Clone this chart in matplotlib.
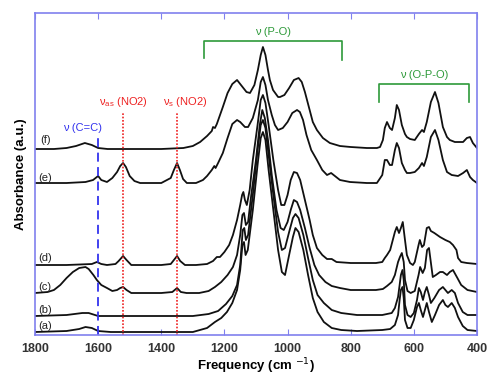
import matplotlib
matplotlib.use("Agg")
import matplotlib.pyplot as plt

plt.rcParams["font.family"] = ["Liberation Sans", "DejaVu Sans"]

# spectra: frequency (cm-1) and absorbance (a.u., traces offset)
freq_f = [1800, 1740, 1700, 1670, 1642, 1620, 1600, 1570, 1500, 1400, 1330, 1300, 1277, 1255, 1240,
          1236, 1230, 1224, 1205, 1190, 1175, 1160, 1145, 1130, 1119, 1105, 1094, 1085, 1078, 1070,
          1062, 1056, 1046, 1030, 1024, 1010, 995, 980, 965, 955, 945, 930, 920, 907, 888, 866, 834,
          800, 749, 717, 707, 698, 692, 685, 676, 669, 660, 654, 647, 638, 628, 622, 612, 597, 584,
          574, 568, 559, 546, 533, 522, 508, 495, 486, 470, 444, 432, 422, 413, 400]
abs_f = [186, 186, 187, 189, 192, 190, 187, 186, 186, 186, 187, 189, 193, 199, 204,
         208, 207, 211, 228, 242, 251, 255, 249, 243, 242, 250, 265, 280, 288, 280,
         265, 255, 245, 238, 238, 240, 247, 255, 257, 253, 243, 225, 213, 205, 197, 192, 189,
         188, 187, 187, 188, 195, 207, 213, 207, 205, 217, 230, 225, 210, 201, 198, 196, 195, 201,
         205, 203, 213, 233, 243, 232, 208, 198, 195, 193, 193, 197, 198, 192, 187]

freq_e = [1800, 1700, 1640, 1616, 1604, 1600, 1590, 1572, 1555, 1540, 1530, 1521, 1512, 1500, 1485,
          1467, 1400, 1370, 1360, 1350, 1341, 1331, 1319, 1290, 1268, 1255, 1240, 1232, 1228, 1220,
          1205, 1190, 1175, 1160, 1150, 1135, 1125, 1110, 1094, 1085, 1078, 1070, 1062, 1050, 1040,
          1030, 1015, 1000, 985, 970, 961, 951, 940, 925, 907, 890, 875, 862, 850, 834, 802, 749,
          717, 700, 692, 685, 676, 669, 660, 654, 647, 638, 628, 622, 612, 597, 584, 574, 568, 559,
          546, 533, 522, 508, 495, 480, 460, 444, 432, 422, 413, 400]
abs_e = [152, 152, 153, 155, 158, 159, 155, 153, 157, 163, 169, 172, 168, 159, 154,
         152, 152, 157, 165, 172, 165, 156, 152, 152, 155, 159, 165, 169, 167, 172,
         182, 197, 211, 215, 213, 208, 208, 217, 235, 253, 258, 250, 235, 220, 210,
         205, 207, 213, 222, 225, 223, 215, 200, 185, 175, 165, 160, 162, 159, 155, 153, 152,
         152, 160, 175, 175, 170, 170, 185, 192, 187, 172, 165, 162, 162, 163, 167, 172, 169, 178,
         198, 205, 195, 175, 163, 160, 159, 162, 165, 158, 155, 152]

freq_d = [1800, 1700, 1620, 1604, 1590, 1572, 1545, 1535, 1521, 1510, 1495, 1400, 1370, 1360, 1350,
          1340, 1325, 1290, 1255, 1236, 1224, 1214, 1200, 1185, 1173, 1160, 1150, 1144, 1140, 1135,
          1129, 1120, 1110, 1095, 1085, 1078, 1070, 1060, 1045, 1030, 1020, 1010, 1000, 990, 980,
          970, 960, 945, 930, 920, 907, 890, 875, 860, 845, 800, 720, 700, 692, 685, 675, 660, 654,
          647, 641, 635, 628, 622, 612, 603, 597, 585, 581, 574, 568, 559, 552, 546, 535, 517, 500,
          486, 476, 465, 460, 450, 432, 400]
abs_d = [70, 70, 71, 73, 71, 70, 71, 74, 79, 75, 70, 70, 71, 75, 79,
         74, 70, 70, 71, 74, 78, 78, 83, 90, 100, 115, 130, 140, 143, 135,
         130, 145, 175, 210, 235, 240, 232, 210, 175, 145, 130, 130, 140, 155, 163,
         162, 155, 135, 115, 100, 87, 80, 76, 76, 73, 72, 72, 73, 77, 80, 85, 103, 108,
         102, 107, 113, 95, 80, 72, 70, 73, 90, 95, 88, 90, 107, 108, 104, 102, 98, 95,
         93, 90, 85, 77, 73, 72, 71]

freq_c = [1800, 1760, 1740, 1720, 1700, 1680, 1660, 1640, 1630, 1615, 1604, 1590, 1572, 1555, 1540,
          1530, 1521, 1510, 1495, 1400, 1365, 1350, 1338, 1320, 1280, 1250, 1230, 1210, 1190, 1173,
          1160, 1150, 1143, 1138, 1132, 1125, 1115, 1100, 1088, 1080, 1072, 1062, 1050, 1035, 1022,
          1012, 1000, 990, 980, 970, 960, 945, 930, 915, 900, 880, 860, 834, 800, 720, 698, 685,
          670, 660, 650, 644, 638, 632, 628, 620, 610, 597, 585, 580, 572, 565, 558, 552, 545, 540,
          530, 517, 508, 495, 486, 476, 462, 450, 430, 400]
abs_c = [42, 43, 45, 50, 57, 63, 67, 68, 66, 60, 55, 50, 47, 44, 45,
         47, 48, 45, 42, 42, 43, 47, 43, 42, 42, 44, 48, 53, 60, 68,
         80, 100, 120, 122, 110, 113, 140, 175, 210, 225, 217, 195, 160, 125, 107,
         105, 113, 125, 135, 133, 125, 107, 87, 70, 60, 53, 49, 47, 45, 45, 46, 49,
         53, 60, 73, 78, 82, 73, 55, 44, 42, 44, 60, 68, 62, 67, 85, 87, 70, 58,
         60, 63, 63, 60, 63, 65, 57, 50, 45, 43]

freq_b = [1800, 1700, 1650, 1630, 1600, 1560, 1300, 1250, 1220, 1195, 1175, 1160, 1150, 1142, 1137,
          1132, 1125, 1110, 1095, 1085, 1078, 1070, 1060, 1045, 1030, 1018, 1008, 995, 983, 975,
          965, 950, 935, 920, 905, 885, 860, 830, 780, 700, 670, 660, 650, 645, 641, 636, 632, 628,
          620, 610, 600, 590, 584, 578, 571, 565, 559, 552, 546, 535, 520, 508, 500, 492, 480, 470,
          460, 445, 430, 400]
abs_b = [19, 20, 22, 22, 19, 19, 19, 21, 24, 31, 39, 50, 70, 105, 107,
         95, 100, 140, 185, 210, 215, 207, 180, 140, 103, 85, 87, 103, 117, 121,
         117, 100, 77, 55, 40, 32, 25, 22, 20, 20, 22, 27, 38, 50, 60, 65, 55, 30,
         20, 18, 22, 35, 47, 43, 35, 43, 48, 40, 32, 37, 45, 48, 45, 42, 45, 42,
         32, 23, 20, 20]

freq_a = [1800, 1700, 1660, 1640, 1620, 1600, 1560, 1300, 1255, 1230, 1210, 1192, 1175, 1160, 1150,
          1143, 1138, 1133, 1126, 1110, 1095, 1085, 1078, 1070, 1060, 1045, 1030, 1018, 1008, 995,
          983, 975, 965, 950, 935, 920, 905, 885, 860, 830, 780, 700, 675, 660, 650, 645, 641, 636,
          632, 628, 620, 610, 600, 590, 584, 578, 571, 565, 559, 552, 543, 533, 520, 508, 500, 492,
          480, 470, 460, 445, 430, 400]
abs_a = [3, 4, 6, 8, 7, 4, 3, 3, 7, 13, 17, 23, 32, 45, 65,
         90, 93, 80, 85, 125, 170, 197, 203, 195, 165, 125, 85, 63, 60, 80,
         98, 107, 103, 85, 60, 37, 23, 13, 7, 5, 4, 5, 6, 10, 20, 35, 45, 48,
         37, 15, 7, 7, 15, 28, 32, 25, 18, 25, 32, 23, 13, 20, 30, 35, 30, 28,
         32, 27, 18, 9, 5, 4]

spectra = [(freq_a, abs_a), (freq_b, abs_b), (freq_c, abs_c),
           (freq_d, abs_d), (freq_e, abs_e), (freq_f, abs_f)]
trace_labels = ["(a)", "(b)", "(c)", "(d)", "(e)", "(f)"]
label_y = [9, 25, 48, 77, 157, 195]

cc_band = 1600
no2_bands = [1521, 1350]
po_range = (1265, 828)
opo_range = (710, 425)

fig = plt.figure(figsize=(4.88, 3.77), dpi=100)
ax = fig.add_axes([0.0717, 0.1114, 0.9057, 0.8541])

for (fx, ay) in spectra:
    ax.plot(fx, ay, color="#111111", lw=1.3)

for lab, yy in zip(trace_labels, label_y):
    ax.text(1768, yy, lab, fontsize=8, color="#222222", ha="center", va="center")

# band markers
ax.plot([cc_band, cc_band], [0, 198], color="#3333ee", lw=1.3, ls=(0, (5, 3)))
ax.text(1650, 202, "ν (C=C)", color="#3333ee", fontsize=8, ha="center", va="bottom")
for xb in no2_bands:
    ax.plot([xb, xb], [0, 222], color="#ee2222", lw=1.2, ls=(0, (1, 1)))
ax.text(1521, 226, r"ν$_{\mathregular{as}}$ (NO2)", color="#ee2222", fontsize=8, ha="center", va="bottom")
ax.text(1325, 226, r"ν$_{\mathregular{s}}$ (NO2)", color="#ee2222", fontsize=8, ha="center", va="bottom")

green = "#2e9a3a"
ax.plot([po_range[0], po_range[0], po_range[1], po_range[1]], [277, 294, 294, 275], color=green, lw=1.2)
ax.text(sum(po_range) / 2, 298, "ν (P-O)", color=green, fontsize=8, ha="center", va="bottom")
ax.plot([opo_range[0], opo_range[0], opo_range[1], opo_range[1]], [233, 251, 251, 233], color=green, lw=1.2)
ax.text(sum(opo_range) / 2, 255, "ν (O-P-O)", color=green, fontsize=8, ha="center", va="bottom")

ax.set_xlim(1800, 400)
ax.set_ylim(0, 322)
ax.set_xticks([1800, 1600, 1400, 1200, 1000, 800, 600, 400])
ax.set_yticks([])
ax.tick_params(axis="x", direction="in", top=True, color="#8080ee", length=4,
               labelsize=9, labelcolor="#333333", pad=6)
for lbl in ax.get_xticklabels():
    lbl.set_fontweight("bold")
for sp in ax.spines.values():
    sp.set_color("#8080ee")
    sp.set_linewidth(1.2)

ax.set_xlabel("Frequency (cm $^{-1}$)", fontsize=9.5, fontweight="bold", labelpad=1)
ax.set_ylabel("Absorbance (a.u.)", fontsize=9.5, fontweight="bold", labelpad=6)

fig.savefig("out.png", dpi=100)
